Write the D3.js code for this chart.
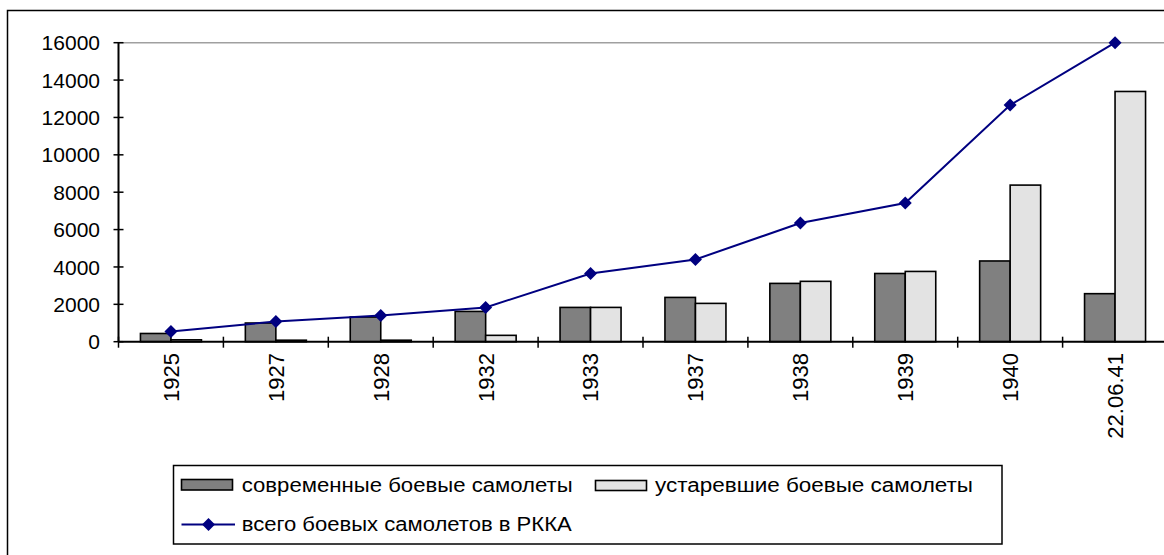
<!DOCTYPE html>
<html><head><meta charset="utf-8">
<script src="https://cdn.jsdelivr.net/npm/d3@7"></script>
<style>body{margin:0;background:#fff}svg{display:block;font-family:"Liberation Sans",Arial,sans-serif}</style>
</head><body>
<svg id="c" width="1164" height="555"></svg>
<script>
const categories = ["1925","1927","1928","1932","1933","1937","1938","1939","1940","22.06.41"];
const modern = [440, 1000, 1320, 1620, 1835, 2370, 3120, 3650, 4320, 2570];
const obsolete = [100, 80, 80, 340, 1835, 2050, 3230, 3760, 8380, 13390];
const total = [540, 1080, 1400, 1835, 3650, 4400, 6350, 7420, 12660, 16000];
const yTicks = [0,2000,4000,6000,8000,10000,12000,14000,16000];
const legendLabels = ["современные боевые самолеты","устаревшие боевые самолеты","всего боевых самолетов в РККА"];

const svg = d3.select("#c");
// outer frame
svg.append("rect").attr("x",7.5).attr("y",10.5).attr("width",1200).attr("height",600)
  .attr("fill","none").attr("stroke","#000").attr("stroke-width",1.5);

const x0 = 118.5, x1 = 118.5 + 104.9*10;
const x = d3.scaleBand().domain(categories).range([x0,x1]).padding(0);
const y = d3.scaleLinear().domain([0,16000]).range([341.7,42.7]);
const groupW = 61;
const xs = d3.scaleBand().domain(["m","o"]).range([(x.step()-groupW)/2,(x.step()+groupW)/2]);

// gridline at top
svg.append("line").attr("x1",x0).attr("x2",1164).attr("y1",y(16000)).attr("y2",y(16000))
  .attr("stroke","#a0a0a0").attr("stroke-width",1.5);

// bars
const g = svg.append("g");
categories.forEach((c,i)=>{
  g.append("rect").attr("x",x(c)+xs("m")).attr("y",y(modern[i])).attr("width",xs.bandwidth())
    .attr("height",y(0)-y(modern[i])).attr("fill","#808080").attr("stroke","#000").attr("stroke-width",1.6);
  g.append("rect").attr("x",x(c)+xs("o")).attr("y",y(obsolete[i])).attr("width",xs.bandwidth())
    .attr("height",y(0)-y(obsolete[i])).attr("fill","#e3e3e3").attr("stroke","#000").attr("stroke-width",1.6);
});

// y axis
const ya = svg.append("g");
ya.append("line").attr("x1",x0).attr("x2",x0).attr("y1",y(0)).attr("y2",y(16000)).attr("stroke","#000").attr("stroke-width",2);
yTicks.forEach(t=>{
  ya.append("line").attr("x1",x0-5).attr("x2",x0+5).attr("y1",y(t)).attr("y2",y(t)).attr("stroke","#000").attr("stroke-width",1.5);
  ya.append("text").attr("x",100).attr("y",y(t)).attr("dy","0.36em").attr("text-anchor","end")
    .attr("font-size",21).text(t);
});

// x axis
const xa = svg.append("g");
xa.append("line").attr("x1",x0).attr("x2",1164).attr("y1",y(0)).attr("y2",y(0)).attr("stroke","#000").attr("stroke-width",2);
for(let i=0;i<=categories.length;i++){
  const tx = x0 + i*x.step();
  xa.append("line").attr("x1",tx).attr("x2",tx).attr("y1",y(0)-5).attr("y2",y(0)+6).attr("stroke","#000").attr("stroke-width",1.5);
}
categories.forEach(c=>{
  const cx = x(c)+x.step()/2;
  xa.append("text").attr("transform",`translate(${cx},353) rotate(-90)`)
    .attr("text-anchor","end").attr("dy","0.36em").attr("font-size",22).text(c);
});

// line
const line = d3.line().x((d,i)=>x(categories[i])+x.step()/2).y(d=>y(d));
svg.append("path").datum(total).attr("d",line).attr("fill","none").attr("stroke","#000080").attr("stroke-width",2);
const dia = "M0,-6.5L6.5,0L0,6.5L-6.5,0Z";
svg.selectAll(".mk").data(total).enter().append("path").attr("class","mk")
  .attr("transform",(d,i)=>`translate(${x(categories[i])+x.step()/2},${y(d)})`)
  .attr("d",dia).attr("fill","#000080");

// legend
const lg = svg.append("g");
lg.append("rect").attr("x",173.5).attr("y",465.5).attr("width",828.5).attr("height",78.5)
  .attr("fill","#fff").attr("stroke","#000").attr("stroke-width",1.5);
lg.append("rect").attr("x",181.5).attr("y",479.5).attr("width",51).attr("height",10.5)
  .attr("fill","#808080").attr("stroke","#000").attr("stroke-width",1.6);
lg.append("text").attr("x",241.7).attr("y",492).attr("font-size",20)
  .attr("textLength",331).attr("lengthAdjust","spacingAndGlyphs").text(legendLabels[0]);
lg.append("rect").attr("x",595.5).attr("y",480.5).attr("width",51).attr("height",10)
  .attr("fill","#e3e3e3").attr("stroke","#000").attr("stroke-width",1.6);
lg.append("text").attr("x",655).attr("y",492).attr("font-size",20)
  .attr("textLength",318).attr("lengthAdjust","spacingAndGlyphs").text(legendLabels[1]);
lg.append("line").attr("x1",181.5).attr("x2",235).attr("y1",524.5).attr("y2",524.5).attr("stroke","#000080").attr("stroke-width",2);
lg.append("path").attr("transform","translate(208.5,524.5)").attr("d",dia).attr("fill","#000080");
lg.append("text").attr("x",241.7).attr("y",530.5).attr("font-size",20)
  .attr("textLength",330).attr("lengthAdjust","spacingAndGlyphs").text(legendLabels[2]);
</script>
</body></html>
